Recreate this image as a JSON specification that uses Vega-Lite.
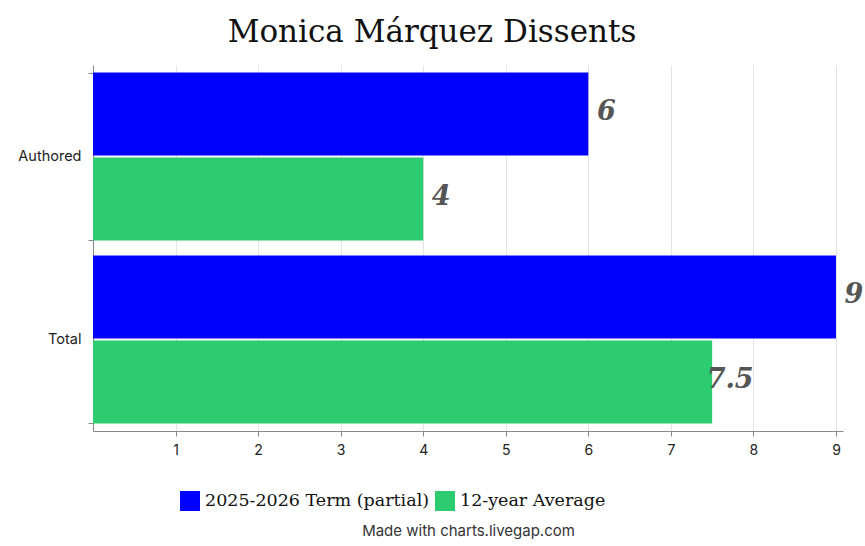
{
  "$schema": "https://vega.github.io/schema/vega-lite/v6.json",
  "width": 750,
  "height": 366,
  "autosize": "none",
  "padding": {"left": 93, "top": 65, "right": 22, "bottom": 115},
  "background": "white",
  "title": {
    "text": "Monica Márquez Dissents",
    "font": "DejaVu Serif",
    "fontSize": 31,
    "fontWeight": "normal",
    "color": "#111111",
    "anchor": "middle",
    "dx": -36,
    "offset": 8
  },
  "data": {
    "values": [
      {"category": "Authored", "series": "2025-2026 Term (partial)", "value": 6},
      {"category": "Authored", "series": "12-year Average", "value": 4},
      {"category": "Total", "series": "2025-2026 Term (partial)", "value": 9},
      {"category": "Total", "series": "12-year Average", "value": 7.5}
    ]
  },
  "encoding": {
    "y": {
      "field": "category",
      "type": "nominal",
      "sort": ["Authored", "Total"],
      "scale": {"paddingInner": 0.082, "paddingOuter": 0.041},
      "axis": {
        "title": null,
        "labelFont": "Inter",
        "labelFontSize": 14.5,
        "labelColor": "#222222",
        "labelPadding": 7,
        "tickBand": "extent",
        "tickSize": 5,
        "tickColor": "#888888",
        "domainColor": "#888888",
        "grid": false
      }
    },
    "yOffset": {
      "field": "series",
      "type": "nominal",
      "sort": ["2025-2026 Term (partial)", "12-year Average"],
      "scale": {"paddingInner": 0.0235, "paddingOuter": 0}
    },
    "x": {
      "field": "value",
      "type": "quantitative",
      "scale": {"domain": [0, 9.085], "nice": false},
      "axis": {
        "values": [1, 2, 3, 4, 5, 6, 7, 8, 9],
        "title": "Made with charts.livegap.com",
        "titleFont": "Inter",
        "titleFontSize": 15,
        "titleFontWeight": "normal",
        "titleColor": "#333333",
        "titleY": 99,
        "titleBaseline": "middle",
        "labelFont": "Inter",
        "labelFontSize": 14,
        "labelColor": "#222222",
        "labelPadding": 7,
        "tickSize": 5,
        "tickColor": "#888888",
        "domainColor": "#888888",
        "gridColor": "#e3e3e3",
        "grid": true
      }
    }
  },
  "layer": [
    {
      "mark": {"type": "bar"},
      "encoding": {
        "color": {
          "field": "series",
          "type": "nominal",
          "sort": ["2025-2026 Term (partial)", "12-year Average"],
          "scale": {
            "domain": ["2025-2026 Term (partial)", "12-year Average"],
            "range": ["#0000ff", "#2ecc71"]
          },
          "legend": {
            "title": null,
            "orient": "none",
            "direction": "horizontal",
            "legendX": 87,
            "legendY": 426,
            "symbolType": "square",
            "symbolSize": 400,
            "symbolOpacity": 1,
            "symbolStrokeWidth": 0,
            "labelFont": "DejaVu Serif",
            "labelFontSize": 17.5,
            "labelColor": "#111111",
            "labelOffset": 5,
            "labelLimit": 0,
            "columnPadding": 5
          }
        }
      }
    },
    {
      "mark": {
        "type": "text",
        "align": "center",
        "baseline": "middle",
        "dx": 18,
        "dy": -2,
        "font": "DejaVu Serif",
        "fontSize": 27,
        "fontWeight": "bold",
        "fontStyle": "italic",
        "color": "#555555"
      },
      "encoding": {
        "text": {"field": "value", "type": "quantitative"}
      }
    }
  ],
  "config": {
    "view": {"stroke": null}
  }
}
